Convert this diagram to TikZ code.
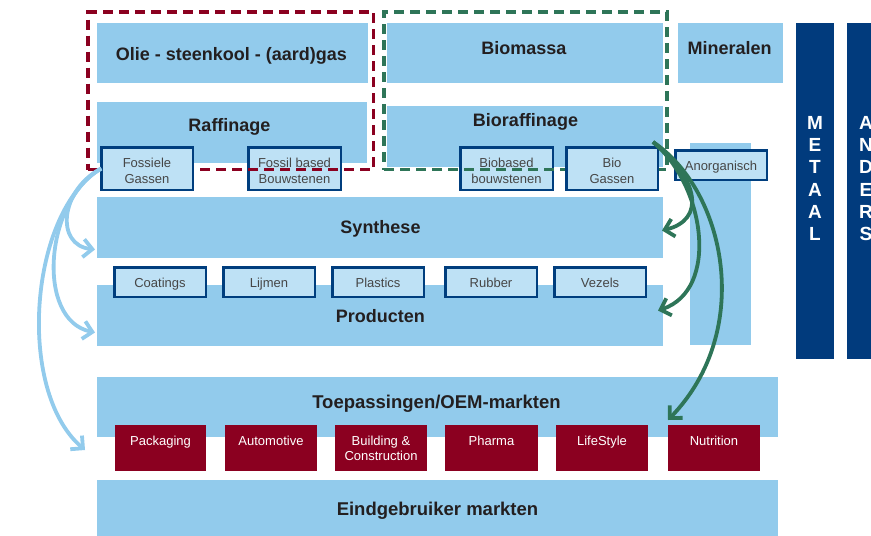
\documentclass[tikz,border=0pt]{standalone}
\usepackage{fontspec}
\setmainfont{Liberation Sans}
\usetikzlibrary{arrows.meta}
\definecolor{lblue}{RGB}{146,203,236}
\definecolor{sblue}{RGB}{190,225,245}
\definecolor{dblue}{RGB}{0,62,126}
\definecolor{colblue}{RGB}{1,59,125}
\definecolor{dred}{RGB}{139,0,32}
\definecolor{dgreen}{RGB}{46,117,88}
\definecolor{arrblue}{RGB}{146,203,236}
\definecolor{txt}{RGB}{35,31,32}
\definecolor{stxt}{RGB}{70,70,70}
\tikzset{
  bbox/.style={fill=lblue, inner sep=0, outer sep=0, anchor=north west},
  cbox/.style={fill=colblue, inner sep=0, outer sep=0, anchor=north west},
  sbox/.style={fill=sblue, draw=dblue, line width=2.5pt, inner sep=0, outer sep=0, anchor=north west},
  rbox/.style={fill=dred, inner sep=0, outer sep=0, anchor=north west},
  redframe/.style={draw=dred, line width=3.5pt, dash pattern=on 10pt off 6pt, inner sep=0, outer sep=0, anchor=north west},
  greenframe/.style={draw=dgreen, line width=3.5pt, dash pattern=on 10pt off 6pt, inner sep=0, outer sep=0, anchor=north west},
  title/.style={font=\fontsize{18}{20}\selectfont\bfseries, text=txt, inner sep=0, anchor=base},
  slabel/.style={font=\fontsize{13}{15.6}\selectfont, text=stxt, align=center, inner sep=0, anchor=base},
  rlabel/.style={font=\fontsize{13}{15.7}\selectfont, text=white, align=center, inner sep=0, anchor=base},
  vlabel/.style={font=\fontsize{19}{22.3}\selectfont\bfseries, text=white, align=center, inner sep=0, anchor=base},
  lbarrow/.style={draw=arrblue, line width=3.8pt, -{Straight Barb[length=9pt,width=18pt]}},
  grarrow/.style={draw=dgreen, line width=3.8pt, -{Straight Barb[length=9pt,width=18pt]}},
}
\begin{document}
\begin{tikzpicture}[x=1pt,y=-1pt]
\useasboundingbox (0,0) rectangle (871,536);
% large light blue boxes
\node[bbox, minimum width=271pt, minimum height=60pt] (olie) at (97,23) {};
\node[bbox, minimum width=270pt, minimum height=61pt] (raf) at (97,102) {};
\node[bbox, minimum width=276pt, minimum height=60pt] (biom) at (387,23) {};
\node[bbox, minimum width=105pt, minimum height=60pt] (miner) at (678,23) {};
\node[bbox, minimum width=276pt, minimum height=61pt] (biorf) at (387,106) {};
\node[bbox, minimum width=61pt, minimum height=202pt] (anorgcol) at (690,143) {};
\node[bbox, minimum width=566pt, minimum height=61pt] (synth) at (97,197) {};
\node[bbox, minimum width=566pt, minimum height=61pt] (prod) at (97,285) {};
\node[bbox, minimum width=681pt, minimum height=60pt] (toep) at (97,377) {};
\node[bbox, minimum width=681pt, minimum height=56pt] (eind) at (97,480) {};
% dark blue columns
\node[cbox, minimum width=38pt, minimum height=336pt] (metcol) at (796,23) {};
\node[cbox, minimum width=40pt, minimum height=336pt] (andcol) at (847,23) {};
% small boxes below the frames
\node[sbox, minimum width=92.5pt, minimum height=42.5pt] (fbb) at (248.25,147.25) {};
\node[sbox, minimum width=92.5pt, minimum height=42.5pt] (bbb) at (460.25,147.25) {};
% dashed frames
\node[redframe, minimum width=285.5pt, minimum height=157.5pt] (fossframe) at (88,12) {};
\node[greenframe, minimum width=283pt, minimum height=157.7pt] (bioframe) at (384,12) {};
% small boxes above the frames
\node[sbox, minimum width=91.5pt, minimum height=42.5pt] (fg) at (101.25,147.25) {};
\node[sbox, minimum width=91.5pt, minimum height=42.5pt] (bgas) at (566.25,147.25) {};
\node[sbox, minimum width=91.5pt, minimum height=29.5pt] (anorg) at (675.25,150.25) {};
\node[sbox, minimum width=91.5pt, minimum height=29.5pt] (coat) at (114.25,267.25) {};
\node[sbox, minimum width=91.5pt, minimum height=29.5pt] (lijm) at (223.25,267.25) {};
\node[sbox, minimum width=91.5pt, minimum height=29.5pt] (plast) at (332.25,267.25) {};
\node[sbox, minimum width=91.5pt, minimum height=29.5pt] (rubb) at (445.25,267.25) {};
\node[sbox, minimum width=91.5pt, minimum height=29.5pt] (vez) at (554.25,267.25) {};
% red market boxes
\node[rbox, minimum width=91pt, minimum height=46pt] (pack) at (115,425) {};
\node[rbox, minimum width=92pt, minimum height=46pt] (auto) at (225,425) {};
\node[rbox, minimum width=92pt, minimum height=46pt] (build) at (335,425) {};
\node[rbox, minimum width=93pt, minimum height=46pt] (pharma) at (445,425) {};
\node[rbox, minimum width=92pt, minimum height=46pt] (life) at (556,425) {};
\node[rbox, minimum width=92pt, minimum height=46pt] (nut) at (668,425) {};
% titles
\node[title] (tolie) at (231.3,60) {Olie - steenkool - (aard)gas};
\node[title] (traf) at (229.5,131) {Raffinage};
\node[title] (tbiom) at (523.8,54.5) {Biomassa};
\node[title] (tminer) at (729.7,54.5) {Mineralen};
\node[title] (tbiorf) at (525.5,126) {Bioraffinage};
\node[title] (tsynth) at (380.5,233.3) {Synthese};
\node[title] (tprod) at (380.3,322.7) {Producten};
\node[title, font=\fontsize{18.5}{20}\selectfont\bfseries] (ttoep) at (436.5,408.3) {Toepassingen/OEM-markten};
\node[title, font=\fontsize{18.5}{20}\selectfont\bfseries] (teind) at (437.5,515) {Eindgebruiker markten};
% small labels (base = baseline of the last line)
\node[slabel] (lfg) at (fg.center |- 0,183.3) {Fossiele\\Gassen};
\node[slabel] (lfbb) at (fbb.center |- 0,183.3) {Fossil based\\Bouwstenen};
\node[slabel] (lbbb) at (bbb.center |- 0,183.3) {Biobased\\bouwstenen};
\node[slabel] (lbgas) at (bgas.center |- 0,183.3) {Bio\\Gassen};
\node[slabel] (lanorg) at (anorg.center |- 0,170) {Anorganisch};
\node[slabel] (lcoat) at (coat.center |- 0,287) {Coatings};
\node[slabel] (llijm) at (lijm.center |- 0,287) {Lijmen};
\node[slabel] (lplast) at (plast.center |- 0,287) {Plastics};
\node[slabel] (lrubb) at (rubb.center |- 0,287) {Rubber};
\node[slabel] (lvez) at (vez.center |- 0,287) {Vezels};
% red labels
\node[rlabel] (lpack) at (pack.center |- 0,445) {Packaging};
\node[rlabel] (lauto) at (auto.center |- 0,445) {Automotive};
\node[rlabel] (lbuild) at (build.center |- 0,460.7) {Building \&\\Construction};
\node[rlabel] (lpharma) at (pharma.center |- 0,445) {Pharma};
\node[rlabel] (llife) at (life.center |- 0,445) {LifeStyle};
\node[rlabel] (lnut) at (nut.center |- 0,445) {Nutrition};
% vertical labels
\node[vlabel] (lmet) at (815,240.8) {M\\E\\T\\A\\A\\L};
\node[vlabel] (land) at (866,240.8) {A\\N\\D\\E\\R\\S};
% light blue arrows
\draw[lbarrow] (fg.west) .. controls (60,190) and (55,245) .. ([xshift=-2pt,yshift=-22pt]synth.west);
\draw[lbarrow] (fg.west) .. controls (45,200) and (35,320) .. ([xshift=-2pt,yshift=-17pt]prod.west);
\draw[lbarrow] (fg.west) .. controls (30,210) and (15,390) .. ([xshift=-30pt,yshift=-2pt]pack.west);
% green arrows
\coordinate (gstart) at ([xshift=-10pt,yshift=25pt]biorf.south east);
\draw[grarrow] (gstart) .. controls (700,180) and (705,220) .. ([xshift=-1pt,yshift=-3pt]synth.east);
\draw[grarrow] (gstart) .. controls (705,185) and (720,290) .. ([xshift=-5pt,yshift=5pt]prod.east);
\draw[grarrow] (gstart) .. controls (725,190) and (755,330) .. ([yshift=5pt]nut.north west);
\end{tikzpicture}
\end{document}
